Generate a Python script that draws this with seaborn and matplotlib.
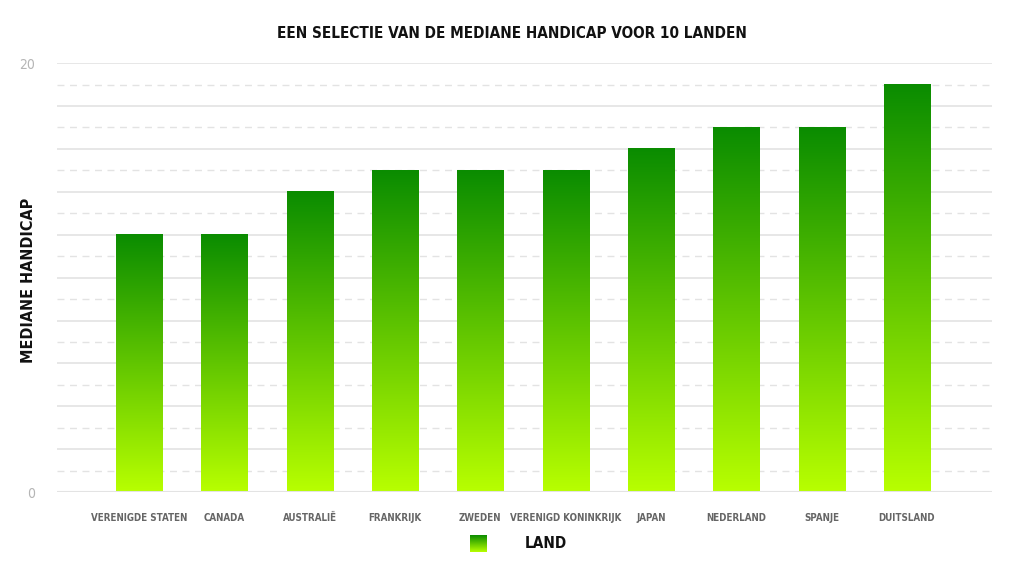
import numpy as np
import pandas as pd
import seaborn as sns
import matplotlib.pyplot as plt
from matplotlib.colors import LinearSegmentedColormap

landen = ["VERENIGDE STATEN", "CANADA", "AUSTRALIË", "FRANKRIJK", "ZWEDEN",
          "VERENIGD KONINKRIJK", "JAPAN", "NEDERLAND", "SPANJE", "DUITSLAND"]
handicap = [12, 12, 14, 15, 15, 15, 16, 17, 17, 19]

df = pd.DataFrame({"land": landen, "handicap": handicap})

sns.set_style("white")
plt.rcParams["font.family"] = ["DejaVu Sans"]
plt.rcParams["font.stretch"] = "condensed"

top_kleur = "#0a8c00"
onder_kleur = "#b8ff00"
cmap = LinearSegmentedColormap.from_list("groen", [onder_kleur, top_kleur])

fig = plt.figure(figsize=(10.24, 5.79), dpi=100)
ax = fig.add_axes([0.0557, 0.150, 0.9133, 0.741])

sns.barplot(data=df, x="land", y="handicap", color=top_kleur, width=0.54,
            ax=ax, zorder=3)

# grid: solid on even values, dashed on odd values
for v in range(1, 21):
    if v % 2 == 0:
        ax.axhline(v, color="#e3e3e3", lw=1.2, zorder=1)
    else:
        ax.axhline(v, color="#e3e3e3", lw=1.0, ls=(0, (5, 4)), zorder=1)
ax.axhline(0, color="#e3e3e3", lw=1.5, zorder=4)

# gradient fill per bar, dark at the top, lime at the bottom
grad = np.linspace(0, 1, 256).reshape(-1, 1)
for p in ax.patches:
    x0, w, h = p.get_x(), p.get_width(), p.get_height()
    ax.imshow(grad, cmap=cmap, aspect="auto", origin="lower",
              extent=[x0, x0 + w, 0, h], zorder=3.5)
    p.set_facecolor("none")
    p.set_edgecolor("none")
ax.set_xlim(-0.96, 10.0)
ax.set_ylim(0, 20)

for s in ax.spines.values():
    s.set_visible(False)

ax.set_yticks([0, 20])
ax.set_yticklabels(["0", "20"], color="#b5b5b5", fontsize=10)
ax.tick_params(axis="y", length=0, pad=16)
ax.tick_params(axis="x", length=0, pad=15)
for t in ax.get_xticklabels():
    t.set_color("#666666")
    t.set_fontsize(7)
    t.set_fontweight("bold")

ax.set_xlabel("")
ax.set_ylabel("")
fig.text(0.028, 0.515, "MEDIANE HANDICAP", rotation=90, ha="center",
         va="center", fontsize=11.5, fontweight="bold", color="#111111")
fig.text(0.5, 0.943, "EEN SELECTIE VAN DE MEDIANE HANDICAP VOOR 10 LANDEN",
         ha="center", va="center", fontsize=11, fontweight="bold",
         color="#111111")

# legend
lax = fig.add_axes([0.459, 0.047, 0.0166, 0.029])
lax.imshow(grad, cmap=cmap, aspect="auto", origin="lower")
lax.axis("off")
fig.text(0.512, 0.061, "LAND", ha="left", va="center", fontsize=11,
         fontweight="bold", color="#111111")

fig.savefig("out.png", dpi=100)
